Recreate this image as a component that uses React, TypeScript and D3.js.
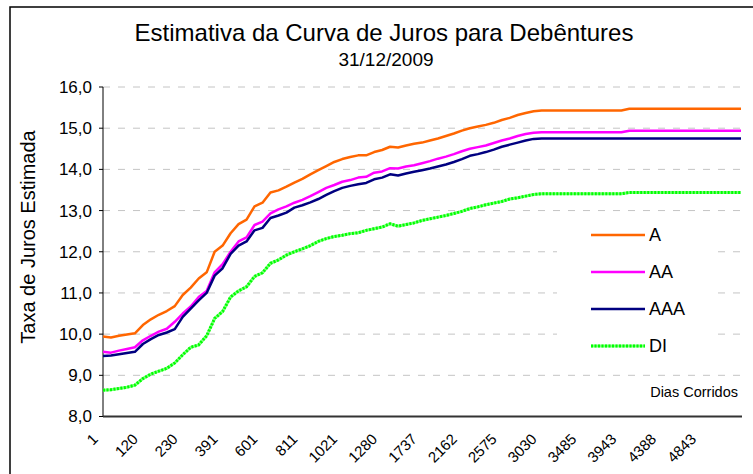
import React from "react";
import * as d3 from "d3";

// Chart size (matches the window)
const W = 753;
const H = 474;
const plot = { left: 103, right: 741, top: 87, bottom: 416.5 };

// Category tick labels (dias corridos), one every 5 points
const dayLabels = ["1", "120", "230", "391", "601", "811", "1021", "1280", "1737", "2162", "2575", "3030", "3485", "3943", "4388", "4843"];
const labelEvery = 5;

const yTicks = [8, 9, 10, 11, 12, 13, 14, 15, 16];

// Series values
const serieA = [
  9.94, 9.92, 9.96, 9.99, 10.02, 10.22, 10.36, 10.47, 10.56, 10.68,
  10.95, 11.13, 11.35, 11.5, 12.0, 12.15, 12.45, 12.67, 12.78, 13.1,
  13.19, 13.44, 13.49, 13.58, 13.68, 13.77, 13.88, 13.98, 14.08, 14.18,
  14.25, 14.3, 14.34, 14.34, 14.42, 14.47, 14.55, 14.53, 14.58, 14.62,
  14.65, 14.7, 14.75, 14.81, 14.87, 14.94, 15.0, 15.04, 15.08, 15.13,
  15.2, 15.25, 15.32, 15.37, 15.41, 15.43, 15.43, 15.43, 15.43, 15.43,
  15.43, 15.43, 15.43, 15.43, 15.43, 15.43, 15.47, 15.47, 15.47, 15.47,
  15.47, 15.47, 15.47, 15.47, 15.47, 15.47, 15.47, 15.47, 15.47, 15.47,
  15.47,
];

const serieAA = [
  9.57, 9.55, 9.6, 9.64, 9.68, 9.85, 9.96, 10.06, 10.13, 10.3,
  10.5, 10.67, 10.9, 11.05, 11.5, 11.7, 12.0, 12.25, 12.35, 12.65,
  12.73, 12.93, 13.03, 13.1, 13.19, 13.26, 13.35, 13.45, 13.55, 13.62,
  13.7, 13.74, 13.8, 13.82, 13.92, 13.95, 14.03, 14.02, 14.07, 14.1,
  14.15, 14.2, 14.26, 14.31, 14.37, 14.44, 14.5, 14.54, 14.58, 14.64,
  14.7, 14.75, 14.81, 14.86, 14.89, 14.9, 14.9, 14.9, 14.9, 14.9,
  14.9, 14.9, 14.9, 14.9, 14.9, 14.9, 14.94, 14.94, 14.94, 14.94,
  14.94, 14.94, 14.94, 14.94, 14.94, 14.94, 14.94, 14.94, 14.94, 14.94,
  14.94,
];

const serieAAA = [
  9.47, 9.48, 9.51, 9.54, 9.57, 9.76, 9.88, 9.98, 10.04, 10.12,
  10.42, 10.62, 10.82, 11.0, 11.42, 11.6, 11.95, 12.15, 12.25, 12.52,
  12.58, 12.82, 12.88, 12.95, 13.07, 13.13, 13.2, 13.28, 13.38, 13.47,
  13.55, 13.6, 13.64, 13.67, 13.76, 13.8, 13.88, 13.85, 13.9, 13.94,
  13.98, 14.02, 14.07, 14.12, 14.18, 14.25, 14.33, 14.37, 14.42, 14.48,
  14.55, 14.6, 14.65, 14.7, 14.74, 14.75, 14.75, 14.75, 14.75, 14.75,
  14.75, 14.75, 14.75, 14.75, 14.75, 14.75, 14.75, 14.75, 14.75, 14.75,
  14.75, 14.75, 14.75, 14.75, 14.75, 14.75, 14.75, 14.75, 14.75, 14.75,
  14.75,
];

const serieDI = [
  8.64, 8.65, 8.68, 8.71, 8.76, 8.92, 9.03, 9.1, 9.17, 9.3,
  9.5, 9.68, 9.74, 9.96, 10.38, 10.55, 10.9, 11.05, 11.15, 11.4,
  11.49, 11.72, 11.8, 11.92, 12.0, 12.07, 12.15, 12.25, 12.32, 12.37,
  12.4, 12.44, 12.46, 12.52, 12.56, 12.6, 12.68, 12.62, 12.66, 12.7,
  12.76, 12.8, 12.84, 12.88, 12.93, 12.98, 13.05, 13.09, 13.14, 13.18,
  13.22, 13.28, 13.31, 13.35, 13.39, 13.41, 13.41, 13.41, 13.41, 13.41,
  13.41, 13.41, 13.41, 13.41, 13.41, 13.41, 13.44, 13.44, 13.44, 13.44,
  13.44, 13.44, 13.44, 13.44, 13.44, 13.44, 13.44, 13.44, 13.44, 13.44,
  13.44,
];

const series = [
  { name: "A", values: serieA, colour: "#ff6600" },
  { name: "AA", values: serieAA, colour: "#ff00ff" },
  { name: "AAA", values: serieAAA, colour: "#000080" },
  { name: "DI", values: serieDI, colour: "#00ff00" },
];

const font = "'Liberation Sans', Arial, sans-serif";

export default function App() {
  const n = serieA.length;
  const x = d3.scaleLinear().domain([0, n - 1]).range([plot.left, plot.right]);
  const y = d3.scaleLinear().domain([8, 16]).range([plot.bottom, plot.top]);

  const line = d3
    .line<number>()
    .x((_, i) => x(i))
    .y((d) => y(d));

  // Legend box
  const legend = { x: 557, y: 215, w: 159, h: 150, rowH: 37 };

  return (
    <div style={{ position: "absolute", left: 0, top: 0 }}>
      <svg width={W} height={H} style={{ display: "block", background: "#fff" }} fontFamily={font}>
        {/* outer frame */}
        <rect x={10} y={7} width={800} height={600} fill="#fff" stroke="#000" strokeWidth={1.5} />

        {/* title */}
        <text x={384} y={41} textAnchor="middle" fontSize={24}>
          Estimativa da Curva de Juros para Debêntures
        </text>
        <text x={386} y={66} textAnchor="middle" fontSize={19}>
          31/12/2009
        </text>

        {/* gridlines */}
        {yTicks.slice(1).map((t) => (
          <line
            key={"g" + t}
            x1={plot.left}
            x2={plot.right + 1}
            y1={y(t)}
            y2={y(t)}
            stroke="#c4c4c4"
            strokeWidth={1}
            strokeDasharray="7,8"
          />
        ))}

        {/* y axis */}
        <line x1={plot.left} x2={plot.left} y1={plot.top} y2={plot.bottom} stroke="#000" strokeWidth={1} />
        {yTicks.map((t) => (
          <g key={"y" + t}>
            <line x1={plot.left - 4} x2={plot.left} y1={y(t)} y2={y(t)} stroke="#000" />
            <text x={92} y={y(t)} dy="0.35em" textAnchor="end" fontSize={17}>
              {d3.format(".1f")(t).replace(".", ",")}
            </text>
          </g>
        ))}
        <text transform={`translate(35, 237) rotate(-90)`} textAnchor="middle" fontSize={20}>
          Taxa de Juros Estimada
        </text>

        {/* x axis */}
        <line x1={plot.left} x2={plot.right + 1} y1={plot.bottom} y2={plot.bottom} stroke="#333" strokeWidth={2} />
        {dayLabels.map((lab, i) => {
          const tx = x(i * labelEvery) - 4;
          return (
            <text key={"x" + lab} transform={`translate(${tx}, 440) rotate(-45)`} textAnchor="end" fontSize={15}>
              {lab}
            </text>
          );
        })}
        <text x={738} y={397} textAnchor="end" fontSize={14.5}>
          Dias Corridos
        </text>

        {/* legend background hides the gridlines behind it */}
        <rect x={legend.x} y={legend.y} width={legend.w} height={legend.h} fill="#fff" />

        {/* series */}
        {series.map((s) =>
          s.name === "DI" ? (
            <g key={s.name}>
              <path d={line(s.values) || ""} fill="none" stroke="#80ff80" strokeWidth={3} />
              <path d={line(s.values) || ""} fill="none" stroke={s.colour} strokeWidth={3} strokeDasharray="2,1.5" />
            </g>
          ) : (
            <path key={s.name} d={line(s.values) || ""} fill="none" stroke={s.colour} strokeWidth={2.5} strokeLinejoin="round" />
          )
        )}

        {/* legend entries */}
        {series.map((s, i) => {
          const cy = 235 + i * legend.rowH;
          return (
            <g key={"l" + s.name}>
              {s.name === "DI" ? (
                <>
                  <line x1={591} x2={645} y1={cy} y2={cy} stroke="#80ff80" strokeWidth={3} />
                  <line x1={591} x2={645} y1={cy} y2={cy} stroke={s.colour} strokeWidth={3} strokeDasharray="2,1.5" />
                </>
              ) : (
                <line x1={591} x2={645} y1={cy} y2={cy} stroke={s.colour} strokeWidth={2.5} />
              )}
              <text x={649} y={cy} dy="0.36em" fontSize={18}>
                {s.name}
              </text>
            </g>
          );
        })}
      </svg>
    </div>
  );
}
